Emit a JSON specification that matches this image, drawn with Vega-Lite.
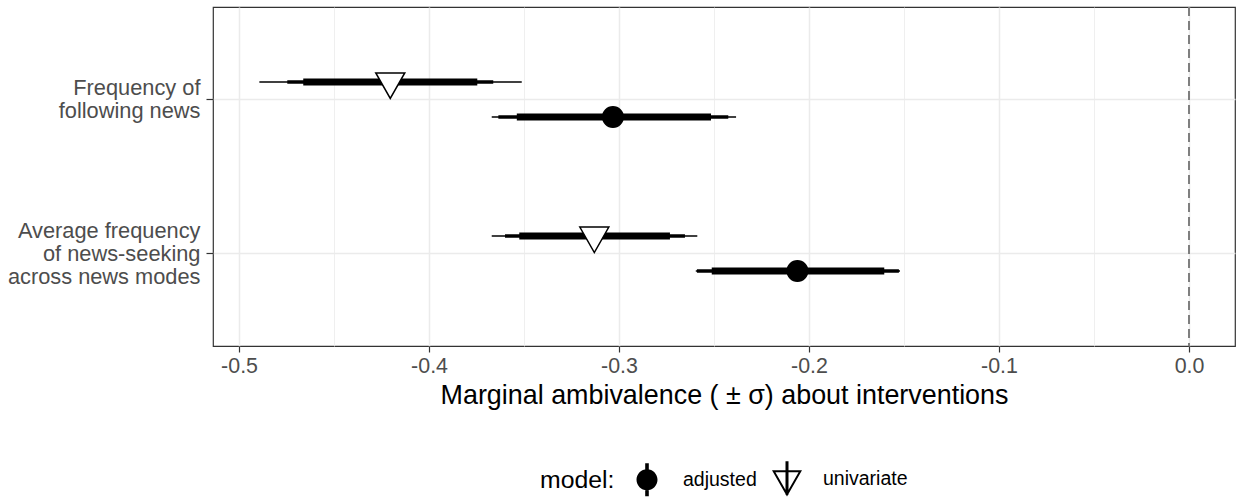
{
  "$schema": "https://vega.github.io/schema/vega-lite/v6.json",
  "autosize": {"type": "none"},
  "padding": {"left": 213, "top": 7, "right": 1, "bottom": 153},
  "width": 1022,
  "height": 339,
  "config": {
    "font": "Liberation Sans",
    "view": {"stroke": "#333333", "strokeWidth": 1.2},
    "axis": {"domain": false}
  },
  "data": {
    "values": [
      {"outcome": "Frequency of\nfollowing news", "model": "univariate", "est": -0.4204, "lo_outer": -0.4893, "hi_outer": -0.3512, "lo_mid": -0.4746, "hi_mid": -0.3662, "lo_inner": -0.4662, "hi_inner": -0.3746},
      {"outcome": "Frequency of\nfollowing news", "model": "adjusted", "est": -0.3032, "lo_outer": -0.3670, "hi_outer": -0.2384, "lo_mid": -0.3635, "hi_mid": -0.2425, "lo_inner": -0.3538, "hi_inner": -0.2516},
      {"outcome": "Average frequency\nof news-seeking\nacross news modes", "model": "univariate", "est": -0.3130, "lo_outer": -0.3670, "hi_outer": -0.2588, "lo_mid": -0.3600, "hi_mid": -0.2653, "lo_inner": -0.3525, "hi_inner": -0.2732},
      {"outcome": "Average frequency\nof news-seeking\nacross news modes", "model": "adjusted", "est": -0.2061, "lo_outer": -0.2596, "hi_outer": -0.1521, "lo_mid": -0.2590, "hi_mid": -0.1527, "lo_inner": -0.2512, "hi_inner": -0.1604}
    ]
  },
  "encoding": {
    "y": {
      "field": "outcome",
      "type": "nominal",
      "sort": ["Frequency of\nfollowing news", "Average frequency\nof news-seeking\nacross news modes"],
      "scale": {"paddingInner": 0.5455, "paddingOuter": 0.3727},
      "axis": {
        "title": null,
        "grid": true,
        "labelExpr": "split(datum.label, '\\n')",
        "labelFontSize": 21.8,
        "labelLineHeight": 23,
        "labelOffset": {"condition": {"test": "indexof(datum.value, 'Average') === 0", "value": -23}, "value": -11.5},
        "labelColor": "#4D4D4D",
        "labelPadding": 6,
        "labelLimit": 300,
        "tickColor": "#333333",
        "tickSize": 7,
        "tickWidth": 1.2,
        "gridColor": "#EBEBEB",
        "gridWidth": 1.5
      }
    },
    "yOffset": {"field": "model", "type": "nominal", "scale": {"domain": ["univariate", "adjusted"]}}
  },
  "layer": [
    {
      "mark": {"type": "rule", "stroke": "#7F7F7F", "strokeWidth": 1.5, "strokeDash": [9, 5]},
      "encoding": {
        "x": {"datum": 0, "type": "quantitative"},
        "y": null,
        "yOffset": null
      }
    },
    {
      "mark": {"type": "rule", "stroke": "black", "strokeWidth": 1.6},
      "encoding": {
        "x": {
          "field": "lo_outer",
          "type": "quantitative",
          "scale": {"domain": [-0.5137, 0.0242], "nice": false, "zero": false},
          "axis": {
            "title": "Marginal ambivalence ( ± σ) about interventions",
            "titleFontSize": 26.9,
            "titleFontWeight": "normal",
            "titleColor": "black",
            "titlePadding": 6,
            "grid": true,
            "values": [-0.5, -0.45, -0.4, -0.35, -0.3, -0.25, -0.2, -0.15, -0.1, -0.05, 0],
            "labelExpr": "abs(datum.value*10 - round(datum.value*10)) < 0.001 ? replace(format(datum.value, '.1f'), '\u2212', '-') : ''",
            "labelFontSize": 21.4,
            "labelColor": "#4D4D4D",
            "labelPadding": 3,
            "labelFlush": false,
            "tickColor": "#333333",
            "tickSize": 6,
            "tickWidth": 1.2,
            "tickOpacity": {"condition": {"test": "abs(datum.value*10 - round(datum.value*10)) < 0.001", "value": 1}, "value": 0},
            "gridColor": "#EBEBEB",
            "gridWidth": {"condition": {"test": "abs(datum.value*10 - round(datum.value*10)) < 0.001", "value": 1.5}, "value": 0.8}
          }
        },
        "x2": {"field": "hi_outer"}
      }
    },
    {
      "mark": {"type": "rule", "stroke": "black", "strokeWidth": 3.6},
      "encoding": {
        "x": {"field": "lo_mid", "type": "quantitative"},
        "x2": {"field": "hi_mid"}
      }
    },
    {
      "mark": {"type": "rule", "stroke": "black", "strokeWidth": 7},
      "encoding": {
        "x": {"field": "lo_inner", "type": "quantitative"},
        "x2": {"field": "hi_inner"}
      }
    },
    {
      "mark": {"type": "point", "filled": true, "opacity": 1, "stroke": "black", "strokeWidth": 1.5},
      "encoding": {
        "x": {"field": "est", "type": "quantitative"},
        "shape": {
          "field": "model",
          "type": "nominal",
          "scale": {"domain": ["adjusted", "univariate"], "range": ["circle", "M-1,-0.62L1,-0.62L0,1.14Z"]},
          "legend": null
        },
        "fill": {
          "field": "model",
          "type": "nominal",
          "scale": {"domain": ["adjusted", "univariate"], "range": ["black", "white"]},
          "legend": null
        },
        "size": {
          "field": "model",
          "type": "nominal",
          "scale": {"domain": ["adjusted", "univariate"], "range": [420, 841]},
          "legend": null
        }
      }
    },
    {
      "transform": [{"filter": "datum.model === 'legend-only'"}],
      "mark": {"type": "point", "filled": true, "opacity": 1, "color": "black", "size": 900},
      "encoding": {
        "x": {"field": "est", "type": "quantitative"},
        "shape": {
          "field": "model",
          "type": "nominal",
          "scale": {"domain": ["adjusted", "univariate"], "range": ["M-0.12,-1.1L0.12,-1.1L0.12,1.1L-0.12,1.1Z M0.7,0A0.7,0.7 0 1,1 -0.7,0A0.7,0.7 0 1,1 0.7,0Z", "M-1,-0.62L1,-0.62L0,1.14Z M-0.773,-0.487L0,0.874L0.773,-0.487Z M-0.1,-1.22L0.1,-1.22L0.1,1.02L-0.1,1.02Z"]},
          "legend": {
            "orient": "none",
            "legendX": 327,
            "legendY": 456,
            "direction": "horizontal",
            "title": "model:",
            "titleOrient": "left",
            "titleFontSize": 24.8,
            "titleFontWeight": "normal",
            "titleColor": "black",
            "titlePadding": 16,
            "labelFontSize": 19.5,
            "labelColor": "black",
            "labelOffset": 20,
            "columnPadding": 12,
            "symbolSize": 900,
            "symbolOpacity": 1
          }
        }
      }
    }
  ],
  "resolve": {"scale": {"shape": "independent", "fill": "independent", "size": "independent"}}
}
